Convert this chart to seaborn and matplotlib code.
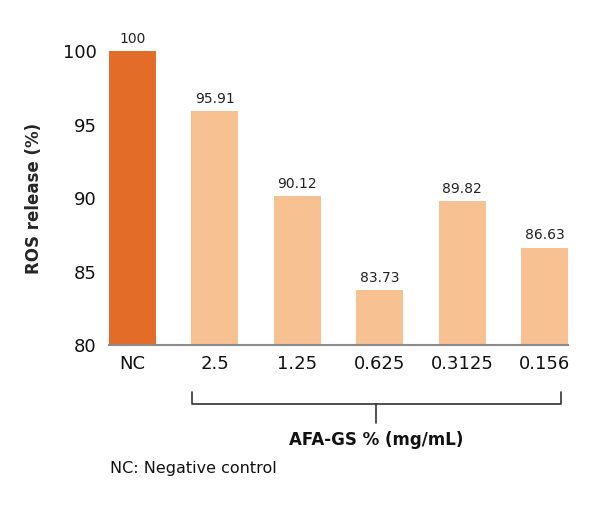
import matplotlib
matplotlib.use("Agg")
import matplotlib.pyplot as plt
import matplotlib.transforms as mtransforms
import seaborn as sns
import pandas as pd

# data
categories = ["NC", "2.5", "1.25", "0.625", "0.3125", "0.156"]
ros_release = [100, 95.91, 90.12, 83.73, 89.82, 86.63]
value_labels = ["100", "95.91", "90.12", "83.73", "89.82", "86.63"]
bar_colors = ["#E36C28", "#F8C192", "#F8C192", "#F8C192", "#F8C192", "#F8C192"]

df = pd.DataFrame({"conc": categories, "ros": ros_release})

sns.set_style("white")
plt.rcParams["font.family"] = ["DejaVu Sans"]

fig = plt.figure(figsize=(6, 5.05), dpi=100)
ax = fig.add_axes([0.1817, 0.3168, 0.765, 0.5822])

bar_w = 0.57
sns.barplot(data=df, x="conc", y="ros", hue="conc", palette=bar_colors,
            legend=False, width=bar_w, saturation=1, linewidth=0, ax=ax)

ax.set_ylim(80, 100)
ax.set_xlim(-bar_w / 2, len(categories) - 1 + bar_w / 2)
ax.set_yticks([80, 85, 90, 95, 100])

# value labels above bars
for i, (v, lab) in enumerate(zip(ros_release, value_labels)):
    ax.text(i, v + 0.35, lab, ha="center", va="bottom", fontsize=10,
            color="#222222", clip_on=False)

sns.despine(ax=ax, left=True)
ax.spines["bottom"].set_color("#8c8c8c")
ax.spines["bottom"].set_linewidth(1.5)
ax.tick_params(axis="both", length=0, labelsize=13, colors="#111111")
ax.tick_params(axis="y", pad=9)
ax.tick_params(axis="x", pad=7)

ax.set_xlabel("")
ax.set_ylabel("ROS release (%)", fontsize=12, fontweight="bold", labelpad=14)

# bracket under the concentration groups
trans = mtransforms.blended_transform_factory(ax.transData, ax.transAxes)
xl, xr, xm = 0.72, 5.2, 2.96
ax.plot([xl, xl, xr, xr], [-0.16, -0.2, -0.2, -0.16], color="#333333",
        lw=1.2, transform=trans, clip_on=False)
ax.plot([xm, xm], [-0.2, -0.265], color="#333333", lw=1.2,
        transform=trans, clip_on=False)
ax.text(xm, -0.323, "AFA-GS % (mg/mL)", transform=trans, ha="center",
        va="center", fontsize=12, fontweight="bold", color="#111111")

fig.text(110 / 600, 1 - 468 / 505, "NC: Negative control", ha="left",
         va="center", fontsize=11.5, color="#111111")

fig.savefig("out.png", dpi=100)
